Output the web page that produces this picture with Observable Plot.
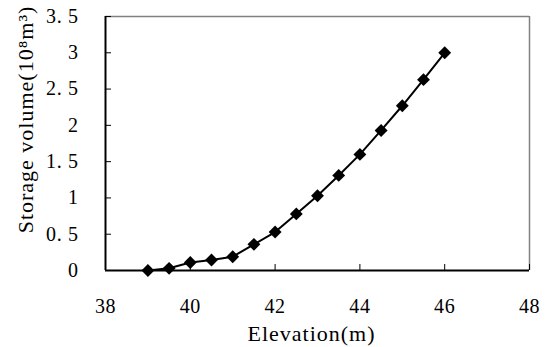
<!DOCTYPE html>
<html>
<head>
<meta charset="utf-8">
<script src="https://cdn.jsdelivr.net/npm/d3@7"></script>
<script src="https://cdn.jsdelivr.net/npm/@observablehq/plot@0.6"></script>
<style>
  body { margin: 0; background: #fff; }
  #chart svg { display: block; }
  #chart svg text { letter-spacing: 0.6px; }
  #chart svg g.title text { letter-spacing: 1px; }
</style>
</head>
<body>
<div id="chart"></div>
<script>
const elevation = [39, 39.5, 40, 40.5, 41, 41.5, 42, 42.5, 43, 43.5, 44, 44.5, 45, 45.5, 46];
const storage = [0, 0.03, 0.11, 0.145, 0.19, 0.36, 0.53, 0.78, 1.03, 1.31, 1.6, 1.93, 2.27, 2.63, 3.0];
const xTicks = [38, 40, 42, 44, 46, 48];
const yTicks = [0, 0.5, 1, 1.5, 2, 2.5, 3, 3.5];
const xTitle = "Elevation(m)";
const yTitle = "Storage volume(10\u2078m\u00B3)";

const data = elevation.map((e, i) => ({elevation: e, storage: storage[i]}));
const fmtY = d => String(d).replace(".", ". ");

const chart = Plot.plot({
  width: 549,
  height: 347,
  marginLeft: 105,
  marginRight: 20,
  marginTop: 16,
  marginBottom: 77,
  style: {fontFamily: "'Liberation Serif', 'DejaVu Serif', serif", fontSize: "20px", color: "#000", background: "#fff"},
  x: {domain: [38, 48]},
  y: {domain: [0, 3.5]},
  marks: [
    Plot.ruleY([3.5], {stroke: "#808080", strokeWidth: 1.5}),
    Plot.ruleX([48], {stroke: "#808080", strokeWidth: 1.5}),
    Plot.axisX({ticks: xTicks, tickSize: -6, tickPadding: 34, stroke: "#000", fontSize: 20, label: null}),
    Plot.axisY({ticks: yTicks, tickSize: -6, tickPadding: 33, tickFormat: fmtY, stroke: "#000", fontSize: 20, label: null}),
    Plot.ruleX([38], {stroke: "#000", strokeWidth: 2}),
    Plot.ruleY([0], {stroke: "#000", strokeWidth: 2}),
    Plot.line(data, {x: "elevation", y: "storage", stroke: "#000", strokeWidth: 2}),
    Plot.dot(data, {x: "elevation", y: "storage", symbol: "diamond2", r: 5.8, fill: "#000", stroke: "none"}),
    Plot.text([xTitle], {frameAnchor: "bottom", lineAnchor: "middle", dx: -6, dy: 63, fontSize: 22, fill: "#000", className: "title"}),
    Plot.text([yTitle], {frameAnchor: "left", textAnchor: "middle", lineAnchor: "middle", rotate: -90, dx: -80, dy: -24, fontSize: 22, fill: "#000", className: "title"})
  ]
});
document.getElementById("chart").appendChild(chart);
</script>
</body>
</html>
